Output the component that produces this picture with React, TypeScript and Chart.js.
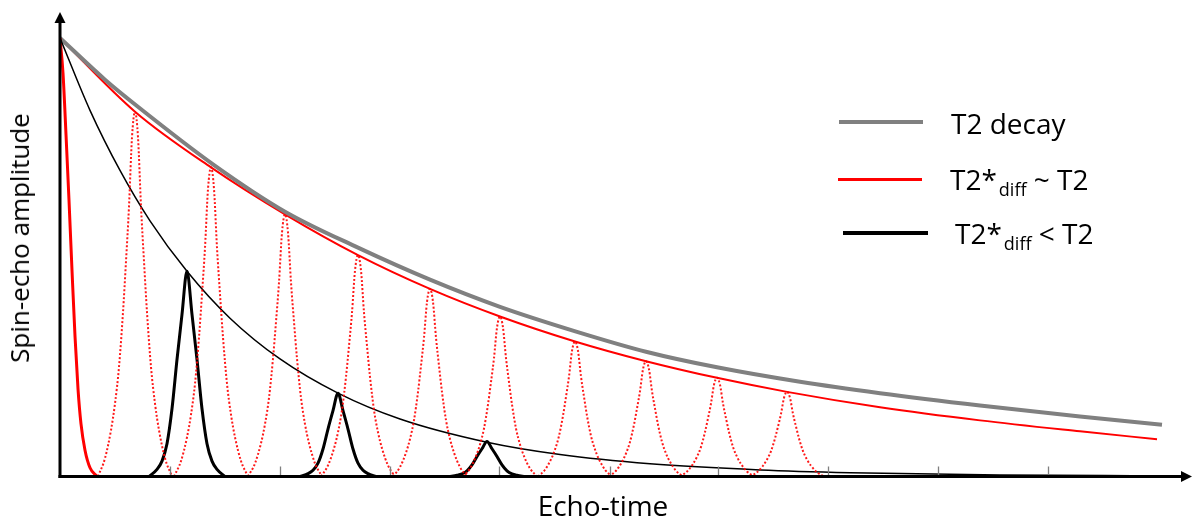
import React, { useEffect, useRef } from "react";
import { Chart, registerables } from "chart.js";

Chart.register(...registerables);

// ---- data (x: echo-time in arbitrary units, y: relative amplitude) ----
const t2Time = [0, 45, 77, 153, 225, 298, 370, 440, 517, 587, 657, 740, 820, 920, 1020, 1102];
const t2Decay = [1.0, 0.905, 0.845, 0.712, 0.604, 0.522, 0.449, 0.387, 0.33, 0.284, 0.249, 0.216, 0.19, 0.162, 0.137, 0.118];

const diffTime = [0, 75, 151, 225, 298, 370, 440, 515, 586, 657, 727, 820, 920, 1020, 1097];
const diffDecay = [1.0, 0.832, 0.705, 0.598, 0.505, 0.428, 0.365, 0.308, 0.263, 0.225, 0.193, 0.158, 0.128, 0.103, 0.085];

const fastTime = [0, 30, 60, 90, 127, 170, 220, 278, 340, 427, 500, 590, 700, 790, 940, 1100];
const fastDecay = [1.0, 0.835, 0.698, 0.583, 0.468, 0.361, 0.268, 0.19, 0.131, 0.078, 0.05, 0.029, 0.015, 0.0088, 0.0036, 0.0014];

const fidTime = [0, 3, 6, 9, 12, 15, 18, 21, 25, 30, 37];
const fidSignal = [1.0, 0.92, 0.78, 0.63, 0.47, 0.32, 0.2, 0.12, 0.06, 0.02, 0];

const redEchoTimes = [75, 151, 225, 298, 370, 440, 515, 586, 657, 727];
const redEchoPeaks = [0.832, 0.705, 0.598, 0.505, 0.428, 0.365, 0.308, 0.263, 0.225, 0.193];
const redPulseOffsets = [-37, -30, -24, -20, -16, -12, -9, -6, -3, 0, 3, 6, 9, 12, 16, 20, 24, 30, 37];
const redPulseShape = [0, 0.05, 0.127, 0.2, 0.3, 0.45, 0.59, 0.74, 0.93, 1, 0.93, 0.74, 0.59, 0.45, 0.3, 0.2, 0.127, 0.05, 0];

const blackEchoTimes = [127, 278, 427];
const blackEchoPeaks = [0.468, 0.19, 0.08];
const blackPulseOffsets = [-38, -30, -25, -20, -15, -10, -5, 0, 5, 10, 15, 20, 25, 30, 38];
const blackPulseShape = [0, 0.035, 0.075, 0.16, 0.33, 0.57, 0.79, 1, 0.79, 0.57, 0.33, 0.16, 0.075, 0.035, 0];

const tickTimes = [110, 220, 330, 439, 550, 658, 768, 878, 988];

const xMin = 0;
const xMax = 1132;
const yMin = 0;
const yMax = 1.0593;

const pts = (xs: number[], ys: number[]) => xs.map((x, i) => ({ x, y: ys[i] }));
const pulse = (center: number, peak: number, offs: number[], shape: number[]) =>
  offs.map((d, i) => ({ x: center + d, y: peak * shape[i] }));

const FONT = "'Open Sans', 'Noto Sans', sans-serif";

const axesPlugin = {
  id: "arrowAxes",
  afterDatasetsDraw(chart: any) {
    const { ctx, chartArea, scales } = chart;
    const xs = scales.x;
    const ys = scales.y;
    const x0 = xs.getPixelForValue(xMin);
    const y0 = ys.getPixelForValue(yMin);
    const xEnd = chartArea.right;
    const yTop = chartArea.top;
    ctx.save();
    // ticks
    ctx.strokeStyle = "#7f7f7f";
    ctx.lineWidth = 1.3;
    tickTimes.forEach((t) => {
      const px = Math.round(xs.getPixelForValue(t)) + 0.5;
      ctx.beginPath();
      ctx.moveTo(px, y0 - 10);
      ctx.lineTo(px, y0);
      ctx.stroke();
    });
    // axes lines
    ctx.strokeStyle = "#000";
    ctx.fillStyle = "#000";
    ctx.lineWidth = 3;
    ctx.beginPath();
    ctx.moveTo(x0, y0 + 1.5);
    ctx.lineTo(x0, yTop + 8);
    ctx.stroke();
    ctx.beginPath();
    ctx.moveTo(x0 - 1.5, y0);
    ctx.lineTo(xEnd - 8, y0);
    ctx.stroke();
    // arrow heads
    ctx.beginPath();
    ctx.moveTo(x0, yTop);
    ctx.lineTo(x0 - 5.5, yTop + 11);
    ctx.lineTo(x0 + 5.5, yTop + 11);
    ctx.closePath();
    ctx.fill();
    ctx.beginPath();
    ctx.moveTo(xEnd, y0);
    ctx.lineTo(xEnd - 11, y0 - 5.5);
    ctx.lineTo(xEnd - 11, y0 + 5.5);
    ctx.closePath();
    ctx.fill();
    ctx.restore();
  },
};

export default function App() {
  const canvasRef = useRef<HTMLCanvasElement | null>(null);

  useEffect(() => {
    if (!canvasRef.current) return;
    const datasets: any[] = [];

    redEchoTimes.forEach((t, i) => {
      datasets.push({
        data: pulse(t, redEchoPeaks[i], redPulseOffsets, redPulseShape),
        borderColor: "rgba(255,0,0,0.9)",
        borderWidth: 2,
        borderDash: [2, 2],
        cubicInterpolationMode: "monotone",
        pointRadius: 0,
        fill: false,
      });
    });

    datasets.push({
      data: pts(fastTime, fastDecay),
      borderColor: "#000",
      borderWidth: 1.5,
      cubicInterpolationMode: "monotone",
      pointRadius: 0,
    });

    blackEchoTimes.forEach((t, i) => {
      datasets.push({
        data: pulse(t, blackEchoPeaks[i], blackPulseOffsets, blackPulseShape),
        borderColor: "#000",
        borderWidth: 3,
        cubicInterpolationMode: "monotone",
        pointRadius: 0,
      });
    });

    datasets.push({
      data: pts(fidTime, fidSignal),
      borderColor: "#ff0000",
      borderWidth: 3,
      cubicInterpolationMode: "monotone",
      pointRadius: 0,
    });

    datasets.push({
      data: pts(t2Time, t2Decay),
      borderColor: "#808080",
      borderWidth: 4,
      cubicInterpolationMode: "monotone",
      pointRadius: 0,
    });

    datasets.push({
      data: pts(diffTime, diffDecay),
      borderColor: "#ff0000",
      borderWidth: 2,
      cubicInterpolationMode: "monotone",
      pointRadius: 0,
    });

    const chart = new Chart(canvasRef.current, {
      type: "line",
      data: { datasets },
      options: {
        animation: false,
        responsive: true,
        maintainAspectRatio: false,
        layout: { padding: { left: 60, top: 12, right: 1, bottom: 42.5 } },
        plugins: { legend: { display: false }, tooltip: { enabled: false } },
        scales: {
          x: { type: "linear", min: xMin, max: xMax, display: false },
          y: { type: "linear", min: yMin, max: yMax, display: false },
        },
      },
      plugins: [axesPlugin],
    });
    return () => chart.destroy();
  }, []);

  const legendRow = (top: number, left: number, children: React.ReactNode) => (
    <div
      style={{
        position: "absolute",
        top,
        left,
        fontFamily: FONT,
        fontSize: 28,
        lineHeight: "28px",
        whiteSpace: "nowrap",
        color: "#000",
      }}
    >
      {children}
    </div>
  );

  const sub = (txt: string) => (
    <span style={{ fontSize: 18, position: "relative", top: 6, marginLeft: 2 }}>{txt}</span>
  );

  return (
    <div style={{ position: "absolute", left: 0, top: 0, width: 1193, height: 519, background: "#fff" }}>
      <canvas ref={canvasRef} />
      {/* y-axis title */}
      <div
        style={{
          position: "absolute",
          left: 19,
          top: 238,
          transform: "translate(-50%, -50%) rotate(-90deg)",
          fontFamily: FONT,
          fontSize: 26,
          lineHeight: "26px",
          whiteSpace: "nowrap",
          color: "#000",
        }}
      >
        Spin-echo amplitude
      </div>
      {/* x-axis title */}
      <div
        style={{
          position: "absolute",
          left: 603,
          top: 491,
          transform: "translateX(-50%)",
          fontFamily: FONT,
          fontSize: 28,
          lineHeight: "28px",
          whiteSpace: "nowrap",
          color: "#000",
        }}
      >
        Echo-time
      </div>
      {/* legend */}
      <div style={{ position: "absolute", left: 839, top: 120, width: 84, height: 4, background: "#808080" }} />
      <div style={{ position: "absolute", left: 838, top: 177.5, width: 84, height: 3, background: "#ff0000" }} />
      <div style={{ position: "absolute", left: 843, top: 231, width: 85, height: 4, background: "#000" }} />
      {legendRow(109, 951, <>T2 decay</>)}
      {legendRow(165, 950, <>T2*{sub("diff")} ~ T2</>)}
      {legendRow(219, 955, <>T2*{sub("diff")} &lt; T2</>)}
    </div>
  );
}
